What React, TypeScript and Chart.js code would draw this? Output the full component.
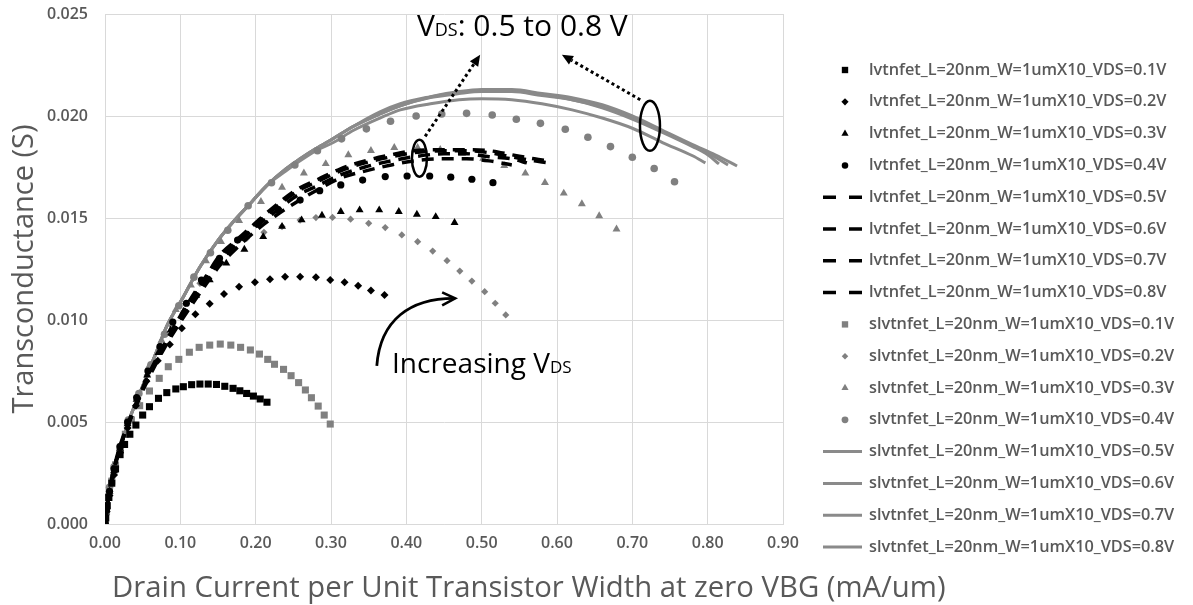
import React, { useEffect, useRef } from 'react';
import { Chart, registerables } from 'chart.js';

Chart.register(...registerables);

// ---------------- DATA ----------------
const SERIES_LABELS = [
  'lvtnfet_L=20nm_W=1umX10_VDS=0.1V',
  'lvtnfet_L=20nm_W=1umX10_VDS=0.2V',
  'lvtnfet_L=20nm_W=1umX10_VDS=0.3V',
  'lvtnfet_L=20nm_W=1umX10_VDS=0.4V',
  'lvtnfet_L=20nm_W=1umX10_VDS=0.5V',
  'lvtnfet_L=20nm_W=1umX10_VDS=0.6V',
  'lvtnfet_L=20nm_W=1umX10_VDS=0.7V',
  'lvtnfet_L=20nm_W=1umX10_VDS=0.8V',
  'slvtnfet_L=20nm_W=1umX10_VDS=0.1V',
  'slvtnfet_L=20nm_W=1umX10_VDS=0.2V',
  'slvtnfet_L=20nm_W=1umX10_VDS=0.3V',
  'slvtnfet_L=20nm_W=1umX10_VDS=0.4V',
  'slvtnfet_L=20nm_W=1umX10_VDS=0.5V',
  'slvtnfet_L=20nm_W=1umX10_VDS=0.6V',
  'slvtnfet_L=20nm_W=1umX10_VDS=0.7V',
  'slvtnfet_L=20nm_W=1umX10_VDS=0.8V',
];

const X_AXIS_TITLE = 'Drain Current per Unit Transistor Width at zero VBG (mA/um)';
const Y_AXIS_TITLE = 'Transconductance (S)';

// lvtnfet VDS=0.1 (black squares)
const lvt01X = [0, 0.001, 0.003, 0.005, 0.009, 0.014, 0.020, 0.026, 0.033, 0.041, 0.050, 0.059, 0.071, 0.082, 0.094, 0.104, 0.115, 0.126, 0.137, 0.148, 0.159, 0.170, 0.179, 0.188, 0.197, 0.206, 0.215];
const lvt01Y = [0, 0.0003, 0.0009, 0.0013, 0.0020, 0.0027, 0.0034, 0.0039, 0.0044, 0.00485, 0.00534, 0.00575, 0.00616, 0.00644, 0.00662, 0.00673, 0.00683, 0.00686, 0.00686, 0.00684, 0.00675, 0.00665, 0.00653, 0.0064, 0.00627, 0.00613, 0.00597];
// lvtnfet VDS=0.2 (black diamonds)
const lvt02X = [0, 0.002, 0.006, 0.012, 0.020, 0.030, 0.041, 0.055, 0.070, 0.086, 0.102, 0.120, 0.139, 0.158, 0.178, 0.199, 0.219, 0.239, 0.259, 0.280, 0.299, 0.318, 0.336, 0.353, 0.371];
const lvt02Y = [0, 0.0006, 0.0014, 0.0024, 0.0035, 0.0047, 0.0058, 0.0070, 0.0080, 0.0088, 0.00959, 0.01028, 0.0108, 0.01127, 0.01163, 0.01185, 0.0120, 0.01212, 0.01212, 0.01209, 0.01196, 0.01185, 0.01168, 0.01144, 0.01123];
// lvtnfet VDS=0.3 (black triangles)
const lvt03X = [0, 0.002, 0.006, 0.012, 0.020, 0.030, 0.042, 0.056, 0.071, 0.087, 0.104, 0.121, 0.139, 0.161, 0.185, 0.210, 0.235, 0.261, 0.288, 0.313, 0.338, 0.364, 0.390, 0.414, 0.439, 0.464];
const lvt03Y = [0, 0.0007, 0.0016, 0.0026, 0.0037, 0.0049, 0.0061, 0.0073, 0.0084, 0.0095, 0.0104, 0.0112, 0.01196, 0.01278, 0.01346, 0.01408, 0.01458, 0.0149, 0.01513, 0.01531, 0.01539, 0.01539, 0.01531, 0.01518, 0.01506, 0.01477];
// lvtnfet VDS=0.4 (black circles)
const lvt04X = [0, 0.002, 0.006, 0.012, 0.020, 0.030, 0.042, 0.057, 0.073, 0.090, 0.108, 0.128, 0.152, 0.176, 0.203, 0.230, 0.259, 0.285, 0.313, 0.342, 0.372, 0.401, 0.431, 0.459, 0.487, 0.515];
const lvt04Y = [0, 0.0007, 0.0016, 0.0027, 0.0038, 0.0050, 0.0062, 0.0075, 0.0087, 0.0099, 0.01082, 0.01196, 0.01302, 0.01392, 0.0147, 0.0154, 0.01588, 0.01634, 0.01662, 0.01686, 0.01703, 0.01706, 0.01706, 0.0170, 0.0169, 0.01673];
// lvtnfet VDS=0.5..0.8 (black dashed lines)
const lvt05X = [0, 0.003, 0.008, 0.015, 0.025, 0.04, 0.06, 0.08, 0.1, 0.12, 0.135, 0.153, 0.177, 0.201, 0.226, 0.255, 0.283, 0.312, 0.345, 0.38, 0.41, 0.45, 0.48, 0.51, 0.54];
const lvt05Y = [0, 0.0009, 0.0020, 0.0031, 0.0043, 0.0057, 0.0073, 0.0087, 0.0099, 0.0110, 0.0118, 0.0127, 0.0136, 0.0144, 0.0151, 0.0158, 0.0164, 0.01695, 0.0173, 0.0176, 0.0178, 0.0179, 0.0179, 0.0178, 0.0176];
const lvt06X = [0, 0.003, 0.008, 0.015, 0.025, 0.04, 0.06, 0.08, 0.1, 0.12, 0.135, 0.153, 0.177, 0.201, 0.226, 0.255, 0.283, 0.312, 0.345, 0.38, 0.41, 0.45, 0.48, 0.51, 0.54, 0.56];
const lvt06Y = [0, 0.0009, 0.0020, 0.0031, 0.0043, 0.0057, 0.0074, 0.0088, 0.0100, 0.0112, 0.0120, 0.0129, 0.0138, 0.0146, 0.0153, 0.0161, 0.0166, 0.0171, 0.0175, 0.0178, 0.0180, 0.01815, 0.01815, 0.0180, 0.0179, 0.0177];
const lvt07X = [0, 0.003, 0.008, 0.015, 0.025, 0.04, 0.06, 0.08, 0.1, 0.12, 0.135, 0.153, 0.177, 0.201, 0.226, 0.255, 0.283, 0.312, 0.345, 0.38, 0.41, 0.45, 0.48, 0.51, 0.54, 0.57, 0.585];
const lvt07Y = [0, 0.0009, 0.0020, 0.0031, 0.0043, 0.0057, 0.0074, 0.0088, 0.0101, 0.0113, 0.0121, 0.0131, 0.0139, 0.0147, 0.0155, 0.0163, 0.0168, 0.0173, 0.0177, 0.0180, 0.0182, 0.0183, 0.0183, 0.0182, 0.0180, 0.0178, 0.01772];
const lvt08X = [0, 0.003, 0.008, 0.015, 0.025, 0.04, 0.06, 0.08, 0.1, 0.12, 0.135, 0.153, 0.177, 0.201, 0.226, 0.255, 0.283, 0.312, 0.345, 0.38, 0.41, 0.45, 0.48, 0.51, 0.54, 0.57, 0.592];
const lvt08Y = [0, 0.0009, 0.0020, 0.0032, 0.0044, 0.0058, 0.0075, 0.0089, 0.0102, 0.0114, 0.0122, 0.0132, 0.0140, 0.0148, 0.0156, 0.0164, 0.0169, 0.0174, 0.0178, 0.0181, 0.0183, 0.01835, 0.01835, 0.0183, 0.0181, 0.0179, 0.01778];

// slvtnfet VDS=0.1 (gray squares)
const slvt01X = [0, 0.002, 0.005, 0.009, 0.014, 0.020, 0.027, 0.035, 0.046, 0.059, 0.072, 0.084, 0.098, 0.112, 0.125, 0.139, 0.153, 0.167, 0.180, 0.193, 0.205, 0.216, 0.225, 0.237, 0.247, 0.257, 0.266, 0.274, 0.283, 0.291, 0.299];
const slvt01Y = [0, 0.0006, 0.0013, 0.0021, 0.0029, 0.0036, 0.0044, 0.0051, 0.0058, 0.00652, 0.00714, 0.00771, 0.00807, 0.00842, 0.00866, 0.00877, 0.00882, 0.00877, 0.00866, 0.00853, 0.00833, 0.00807, 0.00783, 0.00758, 0.00727, 0.00693, 0.00657, 0.00619, 0.00578, 0.00534, 0.0049];
// slvtnfet VDS=0.2 (gray diamonds)
const slvt02X = [0, 0.002, 0.006, 0.012, 0.020, 0.030, 0.042, 0.056, 0.072, 0.089, 0.107, 0.126, 0.146, 0.167, 0.188, 0.211, 0.235, 0.259, 0.280, 0.302, 0.326, 0.350, 0.372, 0.394, 0.415, 0.435, 0.454, 0.471, 0.487, 0.504, 0.518, 0.532];
const slvt02Y = [0, 0.0007, 0.0016, 0.0026, 0.0037, 0.0049, 0.0061, 0.0073, 0.0085, 0.0097, 0.0108, 0.0118, 0.0127, 0.0134, 0.0140, 0.0143, 0.01458, 0.0149, 0.01502, 0.01503, 0.01494, 0.01474, 0.01453, 0.01417, 0.01384, 0.01338, 0.01291, 0.0124, 0.01191, 0.01139, 0.01082, 0.01025];
// slvtnfet VDS=0.3 (gray triangles)
const slvt03X = [0, 0.002, 0.006, 0.012, 0.020, 0.030, 0.043, 0.058, 0.075, 0.094, 0.114, 0.134, 0.154, 0.178, 0.207, 0.235, 0.264, 0.293, 0.323, 0.353, 0.384, 0.415, 0.445, 0.474, 0.502, 0.530, 0.558, 0.584, 0.609, 0.633, 0.656, 0.679];
const slvt03Y = [0, 0.0008, 0.0017, 0.0028, 0.0038, 0.0050, 0.0063, 0.0077, 0.0090, 0.0105, 0.0117, 0.0129, 0.01384, 0.01487, 0.0158, 0.0165, 0.0172, 0.01766, 0.01809, 0.0183, 0.01845, 0.01845, 0.01835, 0.01817, 0.01792, 0.01756, 0.01719, 0.01673, 0.01621, 0.01569, 0.0151, 0.01445];
// slvtnfet VDS=0.4 (gray circles)
const slvt04X = [0, 0.002, 0.006, 0.012, 0.020, 0.031, 0.045, 0.061, 0.079, 0.098, 0.118, 0.140, 0.163, 0.190, 0.221, 0.252, 0.282, 0.314, 0.347, 0.379, 0.413, 0.447, 0.480, 0.514, 0.546, 0.578, 0.611, 0.641, 0.671, 0.700, 0.729, 0.756];
const slvt04Y = [0, 0.0008, 0.0018, 0.0028, 0.0038, 0.0051, 0.0064, 0.0078, 0.0093, 0.0107, 0.0121, 0.0133, 0.0144, 0.0156, 0.01673, 0.0176, 0.0183, 0.01888, 0.01937, 0.01974, 0.0200, 0.0201, 0.02013, 0.02005, 0.01984, 0.01964, 0.01935, 0.01896, 0.0185, 0.01798, 0.01743, 0.01678];
// slvtnfet VDS=0.5..0.8 (gray solid lines)
const slvt05X = [0, 0.002, 0.006, 0.012, 0.02, 0.031, 0.046, 0.069, 0.082, 0.102, 0.126, 0.15, 0.17, 0.195, 0.215, 0.24, 0.259, 0.28, 0.303, 0.33, 0.365, 0.392, 0.432, 0.47, 0.5, 0.54, 0.58, 0.62, 0.66, 0.70, 0.74, 0.78, 0.797];
const slvt05Y = [0, 0.0008, 0.0018, 0.0028, 0.0037, 0.0050, 0.0064, 0.0085, 0.0097, 0.0110, 0.0126, 0.0139, 0.0148, 0.0158, 0.0166, 0.0173, 0.0178, 0.0183, 0.0187, 0.0193, 0.0199, 0.0203, 0.0206, 0.0208, 0.02085, 0.0208, 0.0206, 0.0203, 0.0199, 0.0194, 0.0187, 0.01805, 0.0177];
const slvt06X = [0, 0.002, 0.006, 0.012, 0.02, 0.031, 0.046, 0.069, 0.082, 0.102, 0.126, 0.15, 0.17, 0.195, 0.215, 0.24, 0.259, 0.28, 0.303, 0.33, 0.365, 0.392, 0.432, 0.47, 0.5, 0.54, 0.58, 0.62, 0.66, 0.70, 0.74, 0.78, 0.80, 0.815];
const slvt06Y = [0, 0.0008, 0.0018, 0.0028, 0.0037, 0.0050, 0.0064, 0.0085, 0.0097, 0.0110, 0.0126, 0.0139, 0.0148, 0.0158, 0.0166, 0.0174, 0.0179, 0.0184, 0.0189, 0.0195, 0.0201, 0.0205, 0.0209, 0.0211, 0.0212, 0.0212, 0.0210, 0.0208, 0.0204, 0.01985, 0.0192, 0.0185, 0.0181, 0.01765];
const slvt07X = [0, 0.002, 0.006, 0.012, 0.02, 0.031, 0.046, 0.069, 0.082, 0.102, 0.126, 0.15, 0.17, 0.195, 0.215, 0.24, 0.259, 0.28, 0.303, 0.33, 0.365, 0.392, 0.432, 0.47, 0.5, 0.54, 0.58, 0.62, 0.66, 0.70, 0.74, 0.78, 0.80, 0.827];
const slvt07Y = [0, 0.0008, 0.0018, 0.0028, 0.0037, 0.0050, 0.0064, 0.0085, 0.0097, 0.0110, 0.0126, 0.0139, 0.0148, 0.0158, 0.0166, 0.0174, 0.0179, 0.0184, 0.0189, 0.0195, 0.0201, 0.0205, 0.02093, 0.02115, 0.02125, 0.02125, 0.02105, 0.0208, 0.02045, 0.0199, 0.01925, 0.01855, 0.0182, 0.0176];
const slvt08X = [0, 0.002, 0.006, 0.012, 0.02, 0.031, 0.046, 0.069, 0.082, 0.102, 0.126, 0.15, 0.17, 0.195, 0.215, 0.24, 0.259, 0.28, 0.303, 0.33, 0.365, 0.392, 0.432, 0.47, 0.5, 0.54, 0.58, 0.62, 0.66, 0.70, 0.74, 0.78, 0.81, 0.839];
const slvt08Y = [0, 0.0008, 0.0018, 0.0028, 0.0037, 0.0050, 0.0064, 0.0085, 0.0097, 0.0110, 0.0126, 0.0139, 0.0148, 0.0158, 0.0166, 0.0174, 0.0179, 0.0184, 0.0189, 0.0195, 0.0202, 0.0206, 0.02095, 0.0212, 0.0213, 0.0213, 0.0211, 0.0209, 0.02055, 0.0200, 0.0193, 0.0186, 0.0181, 0.01755];

// Annotations (data coordinates)
const NOTE_VDS_POS = { x: 0.414, y: 0.0239 };
const NOTE_INC_POS = { x: 0.381, y: 0.0074 };
const ARROW_A = { from: { x: 0.425, y: 0.0190 }, to: { x: 0.498, y: 0.0230 } };
const ARROW_B = { from: { x: 0.7105, y: 0.0208 }, to: { x: 0.6065, y: 0.0230 } };
const ELLIPSE_A = { x: 0.4174, y: 0.01793 };
const ELLIPSE_B = { x: 0.7234, y: 0.01952 };
const CURVE_PTS = [
  { x: 0.3608, y: 0.00775 },
  { x: 0.3652, y: 0.0100 },
  { x: 0.405, y: 0.01108 },
  { x: 0.4648, y: 0.01106 },
];

// ---------------- STYLE ----------------
const BLACK = '#000000';
const GRAY = '#808080';
const LINE_GRAY = '#8a8a8a';
const TEXT_GRAY = '#595959';
const GRID = '#d9d9d9';
const FONT = '"Open Sans", "DejaVu Sans", sans-serif';

const pts = (xs: number[], ys: number[]) => xs.map((x, i) => ({ x, y: ys[i] }));

function markerSet(label: string, xs: number[], ys: number[], style: string, color: string, r: number) {
  return {
    label,
    data: pts(xs, ys),
    showLine: false,
    pointStyle: style,
    pointRadius: r,
    pointBackgroundColor: color,
    pointBorderColor: color,
    pointBorderWidth: 0,
    backgroundColor: color,
    borderColor: color,
  };
}

function lineSet(label: string, xs: number[], ys: number[], color: string, width: number, dash: number[]) {
  return {
    label,
    data: pts(xs, ys),
    showLine: true,
    pointRadius: 0,
    borderColor: color,
    backgroundColor: color,
    borderWidth: width,
    borderDash: dash,
    cubicInterpolationMode: 'monotone',
    fill: false,
  };
}

const LVT_DASH = [12, 8];

function buildDatasets() {
  return [
    markerSet(SERIES_LABELS[0], lvt01X, lvt01Y, 'rect', BLACK, 5),
    markerSet(SERIES_LABELS[1], lvt02X, lvt02Y, 'rectRot', BLACK, 4),
    markerSet(SERIES_LABELS[2], lvt03X, lvt03Y, 'triangle', BLACK, 4.6),
    markerSet(SERIES_LABELS[3], lvt04X, lvt04Y, 'circle', BLACK, 3.6),
    lineSet(SERIES_LABELS[4], lvt05X, lvt05Y, BLACK, 3.5, LVT_DASH),
    lineSet(SERIES_LABELS[5], lvt06X, lvt06Y, BLACK, 3.5, LVT_DASH),
    lineSet(SERIES_LABELS[6], lvt07X, lvt07Y, BLACK, 3.5, LVT_DASH),
    lineSet(SERIES_LABELS[7], lvt08X, lvt08Y, BLACK, 3.5, LVT_DASH),
    markerSet(SERIES_LABELS[8], slvt01X, slvt01Y, 'rect', GRAY, 5),
    markerSet(SERIES_LABELS[9], slvt02X, slvt02Y, 'rectRot', GRAY, 3.6),
    markerSet(SERIES_LABELS[10], slvt03X, slvt03Y, 'triangle', GRAY, 4.6),
    markerSet(SERIES_LABELS[11], slvt04X, slvt04Y, 'circle', GRAY, 3.8),
    lineSet(SERIES_LABELS[12], slvt05X, slvt05Y, LINE_GRAY, 3, []),
    lineSet(SERIES_LABELS[13], slvt06X, slvt06Y, LINE_GRAY, 3, []),
    lineSet(SERIES_LABELS[14], slvt07X, slvt07Y, LINE_GRAY, 3, []),
    lineSet(SERIES_LABELS[15], slvt08X, slvt08Y, LINE_GRAY, 3, []),
  ];
}

function drawMarker(ctx: CanvasRenderingContext2D, style: string, x: number, y: number, r: number, color: string) {
  ctx.fillStyle = color;
  ctx.beginPath();
  if (style === 'rect') {
    const s = r * Math.SQRT1_2;
    ctx.rect(x - s, y - s, 2 * s, 2 * s);
  } else if (style === 'rectRot') {
    ctx.moveTo(x - r, y);
    ctx.lineTo(x, y - r);
    ctx.lineTo(x + r, y);
    ctx.lineTo(x, y + r);
    ctx.closePath();
  } else if (style === 'triangle') {
    let a = 0;
    ctx.moveTo(x + Math.sin(a) * r, y - Math.cos(a) * r);
    a += (2 * Math.PI) / 3;
    ctx.lineTo(x + Math.sin(a) * r, y - Math.cos(a) * r);
    a += (2 * Math.PI) / 3;
    ctx.lineTo(x + Math.sin(a) * r, y - Math.cos(a) * r);
    ctx.closePath();
  } else {
    ctx.arc(x, y, r, 0, Math.PI * 2);
  }
  ctx.fill();
}

// Custom legend on the right + x axis title (drawn free of the plot-width clamp)
const LEGEND = { top: 70, step: 31.8, markerX: 845, lineX0: 823, lineX1: 862, textX: 869 };

const legendPlugin = {
  id: 'sideLegend',
  afterDraw(chart: any) {
    const ctx: CanvasRenderingContext2D = chart.ctx;
    ctx.save();
    chart.data.datasets.forEach((d: any, i: number) => {
      const y = LEGEND.top + i * LEGEND.step;
      if (d.showLine) {
        ctx.strokeStyle = d.borderColor;
        ctx.lineWidth = d.borderWidth;
        ctx.setLineDash(d.borderDash && d.borderDash.length ? [13, 13] : []);
        ctx.beginPath();
        ctx.moveTo(LEGEND.lineX0, y);
        ctx.lineTo(LEGEND.lineX1, y);
        ctx.stroke();
        ctx.setLineDash([]);
      } else {
        drawMarker(ctx, d.pointStyle, LEGEND.markerX, y, d.pointRadius * 0.9, d.pointBackgroundColor);
      }
      ctx.fillStyle = TEXT_GRAY;
      ctx.font = `600 16.3px ${FONT}`;
      ctx.textAlign = 'left';
      ctx.textBaseline = 'middle';
      ctx.fillText(d.label, LEGEND.textX, y);
    });
    // x axis title
    const xs = chart.scales.x;
    ctx.fillStyle = TEXT_GRAY;
    ctx.font = `29.3px ${FONT}`;
    ctx.textAlign = 'left';
    ctx.textBaseline = 'alphabetic';
    ctx.fillText(X_AXIS_TITLE, xs.left + 7, 597);
    ctx.restore();
  },
};

function drawSubText(ctx: CanvasRenderingContext2D, x: number, y: number, parts: [string, number][]) {
  let cx = x;
  for (const [t, size] of parts) {
    ctx.font = `${size}px ${FONT}`;
    ctx.fillText(t, cx, y);
    cx += ctx.measureText(t).width;
  }
}

function dottedArrow(ctx: CanvasRenderingContext2D, x0: number, y0: number, x1: number, y1: number) {
  const dx = x1 - x0, dy = y1 - y0;
  const len = Math.hypot(dx, dy);
  const ux = dx / len, uy = dy / len;
  const head = 11, half = 5;
  const bx = x1 - ux * head, by = y1 - uy * head;
  ctx.save();
  ctx.strokeStyle = BLACK;
  ctx.lineWidth = 3;
  ctx.setLineDash([3, 3]);
  ctx.beginPath();
  ctx.moveTo(x0, y0);
  ctx.lineTo(bx, by);
  ctx.stroke();
  ctx.setLineDash([]);
  ctx.fillStyle = BLACK;
  ctx.beginPath();
  ctx.moveTo(x1, y1);
  ctx.lineTo(bx - uy * half, by + ux * half);
  ctx.lineTo(bx + uy * half, by - ux * half);
  ctx.closePath();
  ctx.fill();
  ctx.restore();
}

const annotationPlugin = {
  id: 'notes',
  afterDatasetsDraw(chart: any) {
    const ctx: CanvasRenderingContext2D = chart.ctx;
    const xs = chart.scales.x, ys = chart.scales.y;
    const px = (v: number) => xs.getPixelForValue(v);
    const py = (v: number) => ys.getPixelForValue(v);
    ctx.save();
    ctx.strokeStyle = BLACK;
    ctx.lineWidth = 2.5;
    ctx.beginPath();
    ctx.ellipse(px(ELLIPSE_A.x), py(ELLIPSE_A.y), 7.5, 18.5, 0, 0, Math.PI * 2);
    ctx.stroke();
    ctx.beginPath();
    ctx.ellipse(px(ELLIPSE_B.x), py(ELLIPSE_B.y), 10, 25, 0, 0, Math.PI * 2);
    ctx.stroke();
    dottedArrow(ctx, px(ARROW_A.from.x), py(ARROW_A.from.y), px(ARROW_A.to.x), py(ARROW_A.to.y));
    dottedArrow(ctx, px(ARROW_B.from.x), py(ARROW_B.from.y), px(ARROW_B.to.x), py(ARROW_B.to.y));
    const c = CURVE_PTS.map((p) => ({ x: px(p.x), y: py(p.y) }));
    ctx.strokeStyle = BLACK;
    ctx.lineWidth = 2.8;
    ctx.beginPath();
    ctx.moveTo(c[0].x, c[0].y);
    ctx.bezierCurveTo(c[1].x, c[1].y, c[2].x, c[2].y, c[3].x, c[3].y);
    ctx.stroke();
    ctx.lineWidth = 2.6;
    ctx.beginPath();
    ctx.moveTo(c[3].x - 13, c[3].y - 6);
    ctx.lineTo(c[3].x, c[3].y);
    ctx.lineTo(c[3].x - 13, c[3].y + 7);
    ctx.stroke();
    ctx.fillStyle = BLACK;
    ctx.textAlign = 'left';
    ctx.textBaseline = 'alphabetic';
    drawSubText(ctx, px(NOTE_VDS_POS.x), py(NOTE_VDS_POS.y), [['V', 30], ['DS', 18], [': 0.5 to 0.8 V', 30]]);
    drawSubText(ctx, px(NOTE_INC_POS.x), py(NOTE_INC_POS.y), [['Increasing V', 28], ['DS', 17]]);
    ctx.restore();
  },
};

export default function App() {
  const ref = useRef<HTMLCanvasElement | null>(null);
  useEffect(() => {
    if (!ref.current) return;
    const chart = new Chart(ref.current, {
      type: 'scatter',
      data: { datasets: buildDatasets() as any },
      options: {
        animation: false,
        responsive: true,
        maintainAspectRatio: false,
        layout: { padding: { left: 0, right: 410, top: 14, bottom: 0 } },
        plugins: {
          legend: { display: false },
          tooltip: { enabled: false },
        },
        scales: {
          x: {
            type: 'linear',
            min: 0,
            max: 0.9,
            afterFit: (s: any) => { s.height = 81; },
            ticks: {
              stepSize: 0.1,
              padding: 10,
              color: TEXT_GRAY,
              font: { family: FONT, size: 16, weight: '600' },
              callback: (v: any) => Number(v).toFixed(2),
            },
            grid: { color: GRID, lineWidth: 1, drawTicks: false },
            border: { color: GRID },
            title: { display: false },
          },
          y: {
            type: 'linear',
            min: 0,
            max: 0.025,
            afterFit: (s: any) => { s.width = 105; },
            ticks: {
              stepSize: 0.005,
              padding: 0,
              color: TEXT_GRAY,
              font: { family: FONT, size: 16, weight: '600', lineHeight: 0.8 },
              callback: (v: any) => Number(v).toFixed(3),
            },
            grid: { color: GRID, lineWidth: 1, drawTicks: true, tickLength: 17, tickColor: 'rgba(0,0,0,0)' },
            border: { color: GRID },
            title: {
              display: true,
              text: Y_AXIS_TITLE,
              color: TEXT_GRAY,
              font: { family: FONT, size: 29, weight: 'normal', lineHeight: 1 },
              padding: { top: 10, bottom: 0 },
            },
          },
        },
      } as any,
      plugins: [annotationPlugin, legendPlugin],
    });
    return () => chart.destroy();
  }, []);
  return (
    <div style={{ position: 'absolute', left: 0, top: 0, width: '1193px', height: '605px' }}>
      <canvas ref={ref} />
    </div>
  );
}
